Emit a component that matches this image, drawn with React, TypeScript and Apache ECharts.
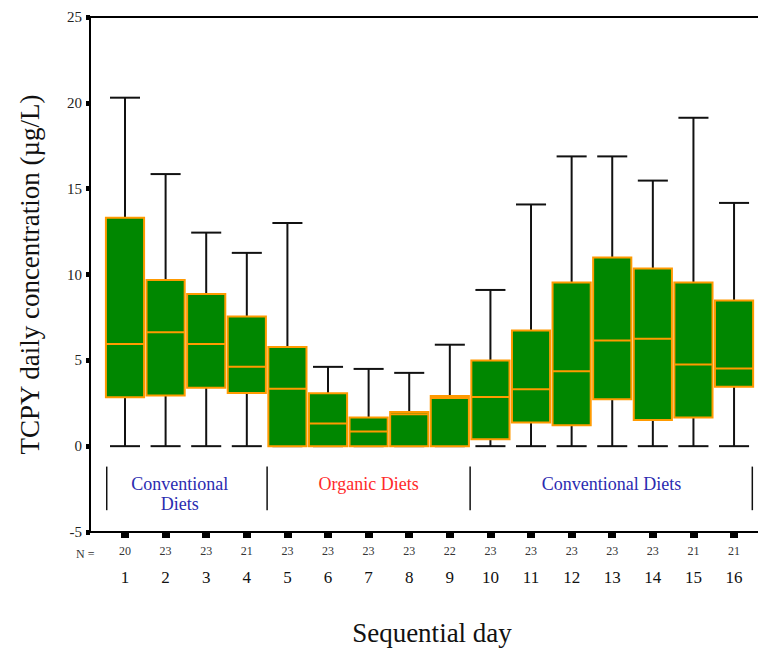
import React, { useEffect, useRef } from "react";
import * as echarts from "echarts";

const days = [1, 2, 3, 4, 5, 6, 7, 8, 9, 10, 11, 12, 13, 14, 15, 16];
const nCounts = [20, 23, 23, 21, 23, 23, 23, 23, 22, 23, 23, 23, 23, 23, 21, 21];
const whiskerLow = [0, 0, 0, 0, 0, 0, 0, 0, 0, 0, 0, 0, 0, 0, 0, 0];
const q1 = [2.85, 2.95, 3.4, 3.1, 0, 0, 0, 0, 0, 0.4, 1.38, 1.22, 2.73, 1.53, 1.67, 3.46];
const median = [5.95, 6.63, 5.95, 4.62, 3.34, 1.32, 0.85, 1.86, 2.81, 2.86, 3.31, 4.37, 6.16, 6.26, 4.76, 4.52];
const q3 = [13.31, 9.68, 8.87, 7.55, 5.78, 3.08, 1.67, 1.99, 2.92, 4.99, 6.74, 9.54, 10.99, 10.35, 9.54, 8.48];
const whiskerHigh = [20.3, 15.85, 12.44, 11.26, 13.0, 4.62, 4.5, 4.27, 5.91, 9.1, 14.08, 16.88, 16.88, 15.47, 19.13, 14.17];

const yTicks = { min: -5, max: 25, interval: 5 };

const groupLabels = ["Conventional\nDiets", "Organic Diets", "Conventional Diets"];
const groupCenters = [2.35, 7.0, 12.98];
const groupColors = ["#2b2bb0", "#ff2a2a", "#2b2bb0"];
const separators = [0.55, 4.5, 9.5, 16.45];

const SERIF = '"Liberation Serif", "Times New Roman", serif';
const X_MIN = 0.138;
const X_MAX = 16.59;
const BOX_W = 0.94;
const CAP_W = 0.74;

export default function App() {
  const ref = useRef<HTMLDivElement>(null);
  useEffect(() => {
    if (!ref.current) return;
    const chart = echarts.init(ref.current, null, { renderer: "svg" });
    const boxData = days.map((d, i) => [d, whiskerLow[i], q1[i], median[i], q3[i], whiskerHigh[i]]);
    const option: any = {
      animation: false,
      grid: { left: 90, right: 0, top: 17, bottom: 115 },
      xAxis: [
        {
          type: "value",
          min: X_MIN,
          max: X_MAX,
          position: "bottom",
          axisLine: { show: true, onZero: false, lineStyle: { color: "#000", width: 2 } },
          axisTick: { show: true, customValues: days, length: 6, lineStyle: { color: "#000", width: 8 } },
          axisLabel: {
            customValues: days,
            margin: 9,
            formatter: (v: number) => {
              const d = Math.round(v);
              return `{n|${nCounts[d - 1]}}\n{d|${d}}`;
            },
            rich: {
              n: { fontSize: 12, lineHeight: 20, color: "#333", fontFamily: SERIF },
              d: { fontSize: 17, lineHeight: 32, color: "#111", fontFamily: SERIF },
            },
          },
          splitLine: { show: false },
          name: "Sequential day",
          nameLocation: "middle",
          nameGap: 87,
          nameTextStyle: { fontSize: 27, color: "#111", fontFamily: SERIF, padding: [0, 0, 0, 16] },
        },
        {
          type: "value",
          min: X_MIN,
          max: X_MAX,
          position: "top",
          axisLine: { show: true, onZero: false, lineStyle: { color: "#000", width: 2 } },
          axisTick: { show: false },
          axisLabel: { show: false },
          splitLine: { show: false },
        },
      ],
      yAxis: {
        type: "value",
        min: yTicks.min,
        max: yTicks.max,
        interval: yTicks.interval,
        axisLine: { show: true, onZero: false, lineStyle: { color: "#000", width: 2 } },
        axisTick: { show: true, length: 4, lineStyle: { color: "#000", width: 5 } },
        axisLabel: { fontSize: 15, margin: 8, color: "#222", fontFamily: SERIF },
        splitLine: { show: false },
        name: "TCPY daily concentration (µg/L)",
        nameLocation: "middle",
        nameGap: 47,
        nameTextStyle: { fontSize: 27, color: "#111", fontFamily: SERIF },
      },
      graphic: [
        {
          type: "text",
          left: 76,
          top: 548,
          style: { text: "N =", fontSize: 12, fill: "#333", fontFamily: SERIF },
        },
      ],
      series: [
        {
          type: "custom",
          name: "TCPY",
          xAxisIndex: 0,
          clip: false,
          encode: { x: 0, y: [1, 2, 3, 4, 5] },
          data: boxData,
          renderItem: (params: any, api: any) => {
            const x = api.value(0);
            const pLow = api.coord([x, api.value(1)]);
            const pQ1 = api.coord([x, api.value(2)]);
            const pMed = api.coord([x, api.value(3)]);
            const pQ3 = api.coord([x, api.value(4)]);
            const pHigh = api.coord([x, api.value(5)]);
            const bw = api.size([BOX_W, 0])[0];
            const cw = api.size([CAP_W, 0])[0];
            const cx = pMed[0];
            const black = { stroke: "#111", lineWidth: 2 };
            return {
              type: "group",
              children: [
                { type: "line", shape: { x1: cx, y1: pQ3[1], x2: cx, y2: pHigh[1] }, style: black },
                { type: "line", shape: { x1: cx - cw / 2, y1: pHigh[1], x2: cx + cw / 2, y2: pHigh[1] }, style: black },
                { type: "line", shape: { x1: cx, y1: pLow[1], x2: cx, y2: pQ1[1] }, style: black },
                { type: "line", shape: { x1: cx - cw / 2, y1: pLow[1], x2: cx + cw / 2, y2: pLow[1] }, style: black },
                {
                  type: "rect",
                  shape: { x: cx - bw / 2, y: pQ3[1], width: bw, height: pQ1[1] - pQ3[1] },
                  style: { fill: "#008700", stroke: "#ff9a00", lineWidth: 2 },
                },
                {
                  type: "line",
                  shape: { x1: cx - bw / 2, y1: pMed[1], x2: cx + bw / 2, y2: pMed[1] },
                  style: { stroke: "#ff9a00", lineWidth: 2 },
                },
              ],
            };
          },
        },
        {
          type: "custom",
          name: "separators",
          clip: false,
          silent: true,
          encode: { x: 0 },
          data: separators.map((s) => [s]),
          renderItem: (params: any, api: any) => {
            const x = api.value(0);
            const p1 = api.coord([x, -1.19]);
            const p2 = api.coord([x, -3.73]);
            return {
              type: "line",
              shape: { x1: p1[0], y1: p1[1], x2: p2[0], y2: p2[1] },
              style: { stroke: "#111", lineWidth: 1.5 },
            };
          },
        },
        {
          type: "custom",
          name: "groups",
          clip: false,
          silent: true,
          encode: { x: 0 },
          data: groupCenters.map((c, i) => [c, i]),
          renderItem: (params: any, api: any) => {
            const i = api.value(1);
            const p = api.coord([api.value(0), -1.62]);
            return {
              type: "text",
              x: p[0],
              y: p[1],
              style: {
                text: groupLabels[i],
                fill: groupColors[i],
                fontSize: 18,
                lineHeight: 20,
                fontFamily: SERIF,
                align: "center",
                verticalAlign: "top",
              },
            };
          },
        },
      ],
    };
    chart.setOption(option);
    return () => chart.dispose();
  }, []);
  return (
    <div
      ref={ref}
      style={{ position: "absolute", left: 0, top: 0, width: 758, height: 651, background: "#fff" }}
    />
  );
}
